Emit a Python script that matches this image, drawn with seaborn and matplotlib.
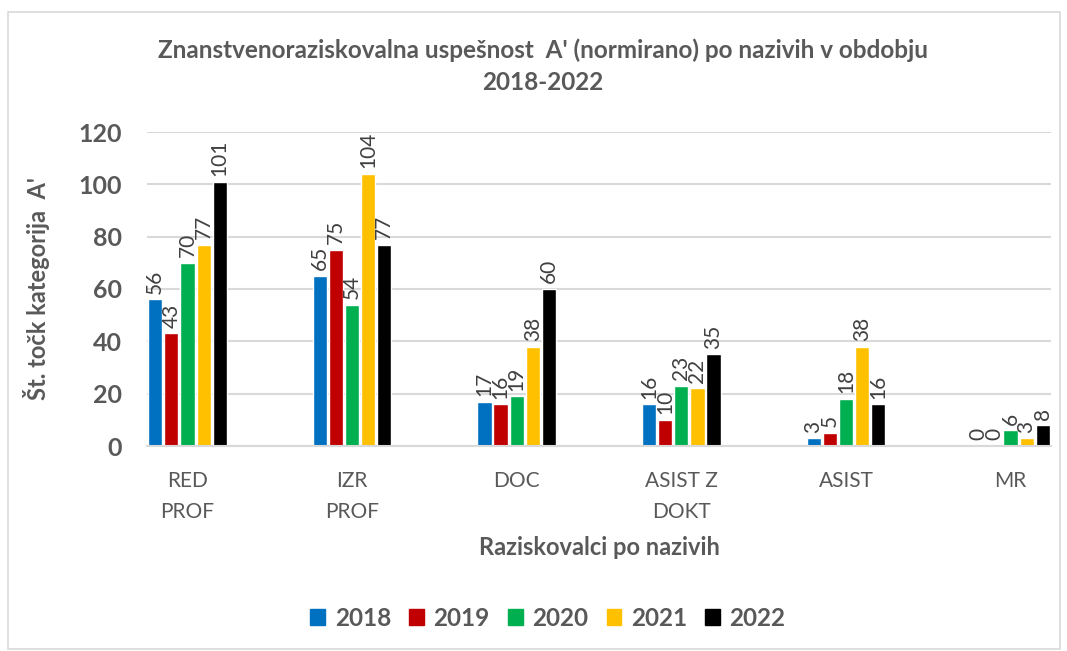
import matplotlib
matplotlib.use("Agg")
import matplotlib.pyplot as plt
from matplotlib.patches import Rectangle
import pandas as pd
import seaborn as sns

categories = ["RED\nPROF", "IZR\nPROF", "DOC", "ASIST Z\nDOKT", "ASIST", "MR"]
years = ["2018", "2019", "2020", "2021", "2022"]
v2018 = [56, 65, 17, 16, 3, 0]
v2019 = [43, 75, 16, 10, 5, 0]
v2020 = [70, 54, 19, 23, 18, 6]
v2021 = [77, 104, 38, 22, 38, 3]
v2022 = [101, 77, 60, 35, 16, 8]
yticks = [0, 20, 40, 60, 80, 100, 120]

colors = ["#0070C0", "#C00000", "#00B050", "#FFC000", "#000000"]

rows = []
for year, vals in zip(years, [v2018, v2019, v2020, v2021, v2022]):
    for cat, v in zip(categories, vals):
        rows.append({"naziv": cat, "leto": year, "tocke": v})
df = pd.DataFrame(rows)

sns.set_theme(style="white")
plt.rcParams["font.family"] = ["Lato", "DejaVu Sans"]

fig = plt.figure(figsize=(10.67, 6.51), dpi=100)
ax = fig.add_axes([147 / 1067, 1 - 446 / 651, 904 / 1067, 314 / 651])

sns.barplot(data=df, x="naziv", y="tocke", hue="leto", order=categories,
            hue_order=years, palette=colors, width=0.49, gap=0.12,
            saturation=1, ax=ax, legend=False, errorbar=None)

# oznake vrednosti nad stolpci (navpično)
for cont in ax.containers:
    ax.bar_label(cont, fmt="%.0f", rotation=90, padding=4,
                 fontsize=15, color="#404040")

ax.set_xlim(-0.246, 5.246)
ax.set_ylim(0, 120)
ax.set_yticks(yticks)
ax.set_yticklabels([str(t) for t in yticks], fontsize=18,
                   fontweight="bold", color="#595959")
ax.set_xticks(range(len(categories)))
ax.set_xticklabels(categories, fontsize=15, color="#595959", linespacing=1.7)
ax.tick_params(axis="x", pad=18, length=0)
ax.tick_params(axis="y", pad=18, length=0)
ax.grid(axis="y", color="#d9d9d9", linewidth=1.5)
ax.set_axisbelow(True)
for s in ["top", "right", "left"]:
    ax.spines[s].set_visible(False)
ax.spines["bottom"].set_color("#d9d9d9")
ax.spines["bottom"].set_linewidth(1.5)

ax.set_xlabel("Raziskovalci po nazivih", fontsize=17, fontweight="bold",
              color="#595959")
ax.xaxis.set_label_coords(0.5, (446 - 536) / 314)
ax.set_ylabel("Št. točk kategorija  A'", fontsize=17, fontweight="bold",
              color="#595959")
ax.yaxis.set_label_coords((50 - 147) / 904, 0.5)

fig.text(543 / 1067, 1 - 66 / 651,
         "Znanstvenoraziskovalna uspešnost  A' (normirano) po nazivih v obdobju\n2018-2022",
         ha="center", va="center", fontsize=17.5, fontweight="bold",
         color="#595959", linespacing=1.45)

handles = [plt.Rectangle((0, 0), 1, 1, color=c) for c in colors]
fig.legend(handles, years, loc="center", bbox_to_anchor=(548 / 1067, 1 - 618 / 651),
           ncol=5, frameon=False, handlelength=0.6, handleheight=0.6,
           columnspacing=0.75, handletextpad=0.4,
           prop={"size": 17.5, "weight": "bold"}, labelcolor="#595959")

fig.patches.append(Rectangle((8 / 1067, 0.003), 1052 / 1067, 1 - 12 / 651 - 0.003,
                             transform=fig.transFigure, fill=False,
                             edgecolor="#d9d9d9", linewidth=1.2))

fig.savefig("out.png", dpi=100)
